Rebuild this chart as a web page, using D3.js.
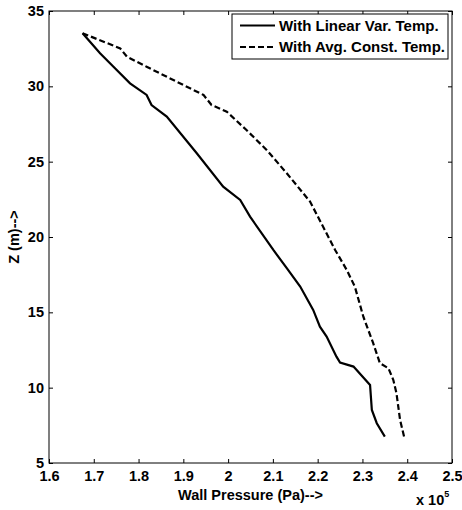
<!DOCTYPE html>
<html>
<head>
<meta charset="utf-8">
<script src="https://cdn.jsdelivr.net/npm/d3@7"></script>
<style>
  body { margin: 0; background: #fff; }
  text { font-family: "Liberation Sans", Arial, sans-serif; fill: #000; font-weight: bold; }
</style>
</head>
<body>
<div id="chart"></div>
<script>
// wall pressure (x 1e5 Pa) vs height Z (m)
const linearP = [1.675, 1.714, 1.744, 1.781, 1.818, 1.829, 1.863, 1.930, 1.989, 2.027, 2.049, 2.101,
  2.131, 2.161, 2.190, 2.205, 2.220, 2.242, 2.250, 2.280, 2.317, 2.321, 2.332, 2.350];
const linearZ = [33.52, 32.19, 31.30, 30.20, 29.43, 28.76, 27.99, 25.56, 23.34, 22.46, 21.35, 19.14,
  17.93, 16.71, 15.16, 14.05, 13.39, 12.06, 11.66, 11.40, 10.18, 8.52, 7.64, 6.75];

const constP = [1.675, 1.759, 1.774, 1.818, 1.885, 1.945, 1.963, 1.997, 2.041, 2.086, 2.131, 2.183,
  2.239, 2.265, 2.283, 2.302, 2.324, 2.339, 2.358, 2.369, 2.376, 2.384, 2.393];
const constZ = [33.52, 32.52, 31.97, 31.30, 30.31, 29.43, 28.76, 28.32, 27.10, 25.78, 24.23, 22.35,
  19.14, 17.81, 16.71, 14.71, 12.95, 11.62, 11.29, 10.51, 9.63, 7.86, 6.75];

const xTicks = [1.6, 1.7, 1.8, 1.9, 2, 2.1, 2.2, 2.3, 2.4, 2.5];
const yTicks = [5, 10, 15, 20, 25, 30, 35];
const seriesNames = ["With Linear Var. Temp.", "With Avg. Const. Temp."];

const W = 462, H = 510;
const m = { left: 49, right: 10, top: 11, bottom: 47 };

const svg = d3.select('#chart').append('svg')
    .attr('width', W).attr('height', H);

const x = d3.scaleLinear().domain([1.6, 2.5]).range([m.left, W - m.right]);
const y = d3.scaleLinear().domain([5, 35]).range([H - m.bottom, m.top]);

const fs = 14.5;
const tickLen = 4;

// axes (ticks pointing inward, box on all sides)
svg.append('g')
    .attr('transform', `translate(0,${y(5)})`)
    .call(d3.axisBottom(x).tickValues(xTicks).tickSize(-tickLen).tickPadding(8)
      .tickFormat(d => d3.format('')(+d.toFixed(1))))
    .call(g => g.selectAll('text').attr('font-size', fs))
    .call(g => g.selectAll('.domain').remove());

svg.append('g')
    .attr('transform', `translate(0,${y(35)})`)
    .call(d3.axisTop(x).tickValues(xTicks).tickSize(-tickLen).tickFormat(''))
    .call(g => g.selectAll('.domain').remove());

svg.append('g')
    .attr('transform', `translate(${x(1.6)},0)`)
    .call(d3.axisLeft(y).tickValues(yTicks).tickSize(-tickLen).tickPadding(5))
    .call(g => g.selectAll('text').attr('font-size', fs))
    .call(g => g.selectAll('.domain').remove());

svg.append('g')
    .attr('transform', `translate(${x(2.5)},0)`)
    .call(d3.axisRight(y).tickValues(yTicks).tickSize(-tickLen).tickFormat(''))
    .call(g => g.selectAll('.domain').remove());

svg.selectAll('.tick line').attr('stroke', '#000');

svg.append('rect')
    .attr('x', x(1.6)).attr('y', y(35))
    .attr('width', x(2.5) - x(1.6)).attr('height', y(5) - y(35))
    .attr('fill', 'none').attr('stroke', '#000').attr('stroke-width', 1);

// curves
const line = d3.line().x(d => x(d[0])).y(d => y(d[1]));

svg.append('path')
    .datum(linearP.map((p, i) => [p, linearZ[i]]))
    .attr('d', line)
    .attr('fill', 'none').attr('stroke', '#000').attr('stroke-width', 2.2);

svg.append('path')
    .datum(constP.map((p, i) => [p, constZ[i]]))
    .attr('d', line)
    .attr('fill', 'none').attr('stroke', '#000').attr('stroke-width', 2.2)
    .attr('stroke-dasharray', '6,3');

// axis labels
svg.append('text')
    .attr('x', (x(1.6) + x(2.5)) / 2).attr('y', 500)
    .attr('text-anchor', 'middle').attr('font-size', fs)
    .text('Wall Pressure (Pa)-->');

svg.append('text')
    .attr('transform', `translate(19,${(y(5) + y(35)) / 2}) rotate(-90)`)
    .attr('text-anchor', 'middle').attr('font-size', fs)
    .text('Z (m)-->');

const expo = svg.append('text').attr('x', 416).attr('y', 505).attr('font-size', fs);
expo.append('tspan').text('x 10');
expo.append('tspan').attr('dy', -8).attr('font-size', 9).text('5');

// legend
const lg = svg.append('g').attr('transform', 'translate(232,14)');
lg.append('rect')
    .attr('width', 216).attr('height', 45)
    .attr('fill', '#fff').attr('stroke', '#000').attr('stroke-width', 1);
seriesNames.forEach((name, i) => {
  const yy = 11.5 + i * 21.5;
  lg.append('line')
      .attr('x1', 8).attr('x2', 43).attr('y1', yy).attr('y2', yy)
      .attr('stroke', '#000').attr('stroke-width', 2.2)
      .attr('stroke-dasharray', i === 1 ? '6,3' : null);
  lg.append('text')
      .attr('x', 47).attr('y', yy).attr('dy', '0.35em')
      .attr('font-size', 15)
      .text(name);
});
</script>
</body>
</html>
